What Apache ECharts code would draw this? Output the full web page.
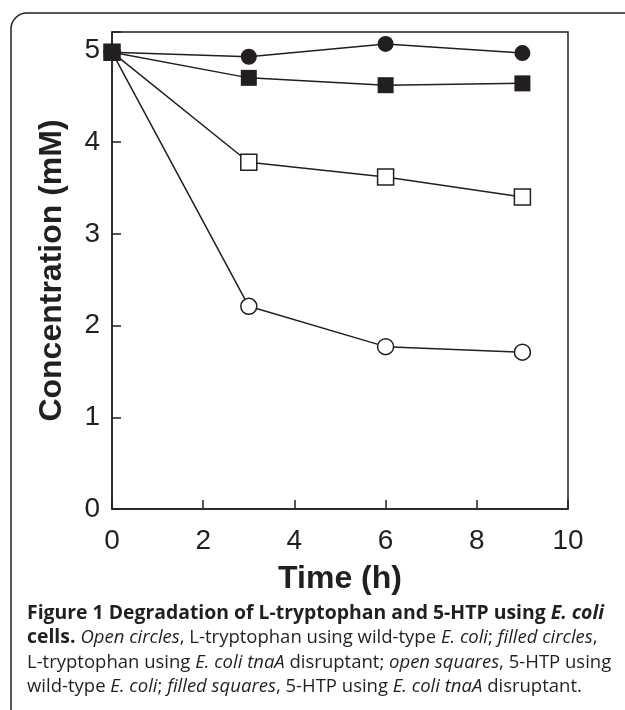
<!DOCTYPE html>
<html>
<head>
<meta charset="utf-8">
<script src="https://cdn.jsdelivr.net/npm/echarts@6/dist/echarts.min.js"></script>
<style>
html,body{margin:0;padding:0;background:#fff;}
#chart{width:625px;height:710px;}
</style>
</head>
<body>
<div id="chart"></div>
<script>
// Data
const timeH = [0, 3, 6, 9];
const openCircles = [4.98, 2.21, 1.77, 1.71];     // L-tryptophan, wild-type
const filledCircles = [4.98, 4.93, 5.07, 4.97];   // L-tryptophan, tnaA disruptant
const openSquares = [4.98, 3.78, 3.62, 3.40];     // 5-HTP, wild-type
const filledSquares = [4.98, 4.70, 4.62, 4.64];   // 5-HTP, tnaA disruptant
const xTicks = [0, 2, 4, 6, 8, 10];
const yTicks = [0, 1, 2, 3, 4, 5];

const ink = '#231f20';
const pairs = arr => timeH.map((t, i) => [t, arr[i]]);

function mkSeries(name, data, symbol, filled) {
  return {
    name: name,
    type: 'line',
    data: pairs(data),
    symbol: symbol,
    symbolSize: 16,
    showAllSymbol: true,
    lineStyle: { color: ink, width: 1.5 },
    itemStyle: { color: filled ? ink : '#ffffff', borderColor: ink, borderWidth: filled ? 0 : 1.5 },
    emphasis: { disabled: true },
    animation: false
  };
}

const capFont = '"Open Sans", "Noto Sans", sans-serif';
const capSize = 18.5;
const capBold = 19.4;
const rich = {
  b: { fontFamily: capFont, fontSize: capBold, fontWeight: 'bold', fill: ink },
  bi: { fontFamily: capFont, fontSize: capBold, fontWeight: 'bold', fontStyle: 'italic', fill: ink },
  i: { fontFamily: capFont, fontSize: capSize, fontStyle: 'italic', fill: ink },
  n: { fontFamily: capFont, fontSize: capSize, fill: ink }
};
const captionLines = [
  '{b|Figure 1 Degradation of L-tryptophan and 5-HTP using }{bi|E. coli}',
  '{b|cells. }{i|Open circles}{n|, L-tryptophan using wild-type }{i|E. coli}{n|; }{i|filled circles}{n|,}',
  '{n|L-tryptophan using }{i|E. coli tnaA}{n| disruptant; }{i|open squares}{n|, 5-HTP using}',
  '{n|wild-type }{i|E. coli}{n|; }{i|filled squares}{n|, 5-HTP using }{i|E. coli tnaA}{n| disruptant.}'
];
const baselines = [621, 645, 670, 694];

const chart = echarts.init(document.getElementById('chart'), null, { renderer: 'canvas' });
chart.setOption({
  animation: false,
  backgroundColor: '#ffffff',
  grid: { left: 112, right: 57, top: 32, bottom: 201, show: true, borderColor: ink, borderWidth: 1.5, backgroundColor: 'transparent' },
  xAxis: {
    type: 'value', min: 0, max: 10, interval: 2,
    name: 'Time (h)', nameLocation: 'middle', nameGap: 54,
    nameTextStyle: { fontFamily: '"Liberation Sans", Arial, sans-serif', fontSize: 32, fontWeight: 'bold', color: ink },
    axisLine: { show: true, lineStyle: { color: ink, width: 1.5 } },
    axisTick: { show: true, inside: true, length: 9, lineStyle: { color: ink, width: 1.5 } },
    axisLabel: { margin: 18, fontFamily: '"Liberation Sans", Arial, sans-serif', fontSize: 28, color: ink,
      formatter: v => xTicks.indexOf(v) >= 0 ? String(v) : '' },
    splitLine: { show: false }
  },
  yAxis: {
    type: 'value', min: 0, max: 5.2, interval: 1,
    name: 'Concentration (mM)', nameLocation: 'middle', nameGap: 44,
    nameTextStyle: { fontFamily: '"Liberation Sans", Arial, sans-serif', fontSize: 32, fontWeight: 'bold', color: ink },
    axisLine: { show: true, lineStyle: { color: ink, width: 1.5 } },
    axisTick: { show: true, inside: true, length: 9, lineStyle: { color: ink, width: 1.5 } },
    axisLabel: { margin: 12, fontFamily: '"Liberation Sans", Arial, sans-serif', fontSize: 28, color: ink,
      formatter: v => yTicks.indexOf(v) >= 0 ? String(v) : '' },
    splitLine: { show: false }
  },
  series: [
    mkSeries('Open circles', openCircles, 'circle', false),
    mkSeries('Open squares', openSquares, 'rect', false),
    mkSeries('Filled circles', filledCircles, 'circle', true),
    mkSeries('Filled squares', filledSquares, 'rect', true)
  ],
  graphic: [
    { type: 'rect', z: -10, silent: true, shape: { x: 11, y: 13, width: 650, height: 730, r: 16 },
      style: { fill: 'none', stroke: ink, lineWidth: 1.5 } }
  ].concat(captionLines.map((t, i) => ({
    type: 'text', left: 27, top: baselines[i] - 17, silent: true,
    style: { text: t, rich: rich, fill: ink, font: capSize + 'px ' + capFont }
  })))
});
</script>
</body>
</html>
